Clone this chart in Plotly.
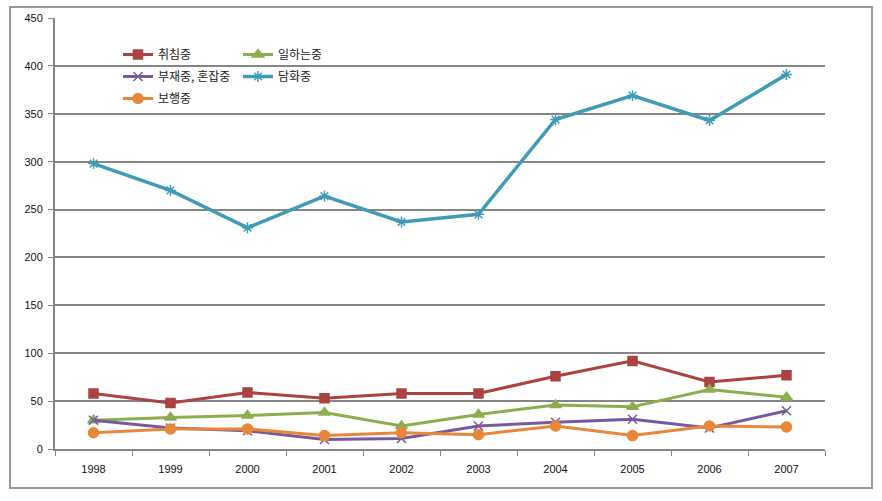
import plotly.graph_objects as go

years = ["1998", "1999", "2000", "2001", "2002", "2003", "2004", "2005", "2006", "2007"]
sleeping = [58, 48, 59, 53, 58, 58, 76, 92, 70, 77]          # 취침중
working = [30, 33, 35, 38, 24, 36, 46, 44, 62, 54]           # 일하는중
absent_busy = [30, 22, 19, 10, 11, 24, 28, 31, 22, 40]       # 부재중, 혼잡중
talking = [298, 270, 231, 264, 237, 245, 344, 369, 343, 391] # 담화중
walking = [17, 21, 21, 14, 17, 15, 24, 14, 24, 23]           # 보행중

W, H = 882, 501
L, R, T, B = 55, 57, 18, 52

fig = go.Figure()

def add(name, y, color, symbol, size, legend, lw=3):
    fig.add_trace(go.Scatter(
        x=years, y=y, name=name, mode="lines+markers",
        line=dict(color=color, width=lw),
        marker=dict(symbol=symbol, size=size, color=color,
                    line=dict(color=color, width=1.5)),
        legend=legend, legendgroup=name,
    ))

add("취침중", sleeping, "#AB4340", "square", 9, "legend")
add("일하는중", working, "#8DAE4E", "triangle-up", 10, "legend2")
add("부재중, 혼잡중", absent_busy, "#775A9C", "x-thin-open", 9, "legend")
add("담화중", talking, "#3F9BB6", "asterisk-open", 9, "legend2", lw=3.5)
add("보행중", walking, "#E8873A", "circle", 10, "legend")

pw = W - L - R
ph = H - T - B
def px_x(v):
    return (v - L) / pw
def px_y(v):
    return (H - B - v) / ph

legend_common = dict(
    orientation="v", xanchor="left", yanchor="top", bgcolor="rgba(0,0,0,0)",
    font=dict(family="Noto Sans CJK KR", size=12, color="#222"),
    itemwidth=30, tracegroupgap=3,
)

fig.update_layout(
    width=W, height=H,
    margin=dict(l=L, r=R, t=T, b=B, autoexpand=False),
    paper_bgcolor="white", plot_bgcolor="white",
    showlegend=True,
    legend=dict(x=px_x(118), y=px_y(40), **legend_common),
    legend2=dict(x=px_x(238), y=px_y(40), **legend_common),
    xaxis=dict(
        type="category", tickson="boundaries", ticks="outside", ticklen=5,
        tickcolor="#868686", tickwidth=1, automargin=False,
        showline=True, linecolor="#868686", linewidth=2,
        showgrid=False, zeroline=False, ticklabelstandoff=9,
        tickfont=dict(family="Liberation Sans", size=11, color="#111"),
        range=[-0.5, 9.5],
    ),
    yaxis=dict(
        range=[0, 450], dtick=50, tick0=0, automargin=False,
        showgrid=True, gridcolor="#868686", gridwidth=2,
        showline=True, linecolor="#868686", linewidth=2,
        ticks="outside", ticklen=5, tickcolor="#868686",
        zeroline=False, ticklabelstandoff=3,
        tickfont=dict(family="Liberation Sans", size=11, color="#111"),
    ),
    shapes=[dict(
        type="rect", xref="paper", yref="paper",
        x0=px_x(10), x1=px_x(872), y0=px_y(488), y1=px_y(7),
        line=dict(color="#9a9a9a", width=2), layer="below",
    )],
)

fig.write_html("out.html", config={"displayModeBar": False},
               post_script="document.body.style.margin='0';")
